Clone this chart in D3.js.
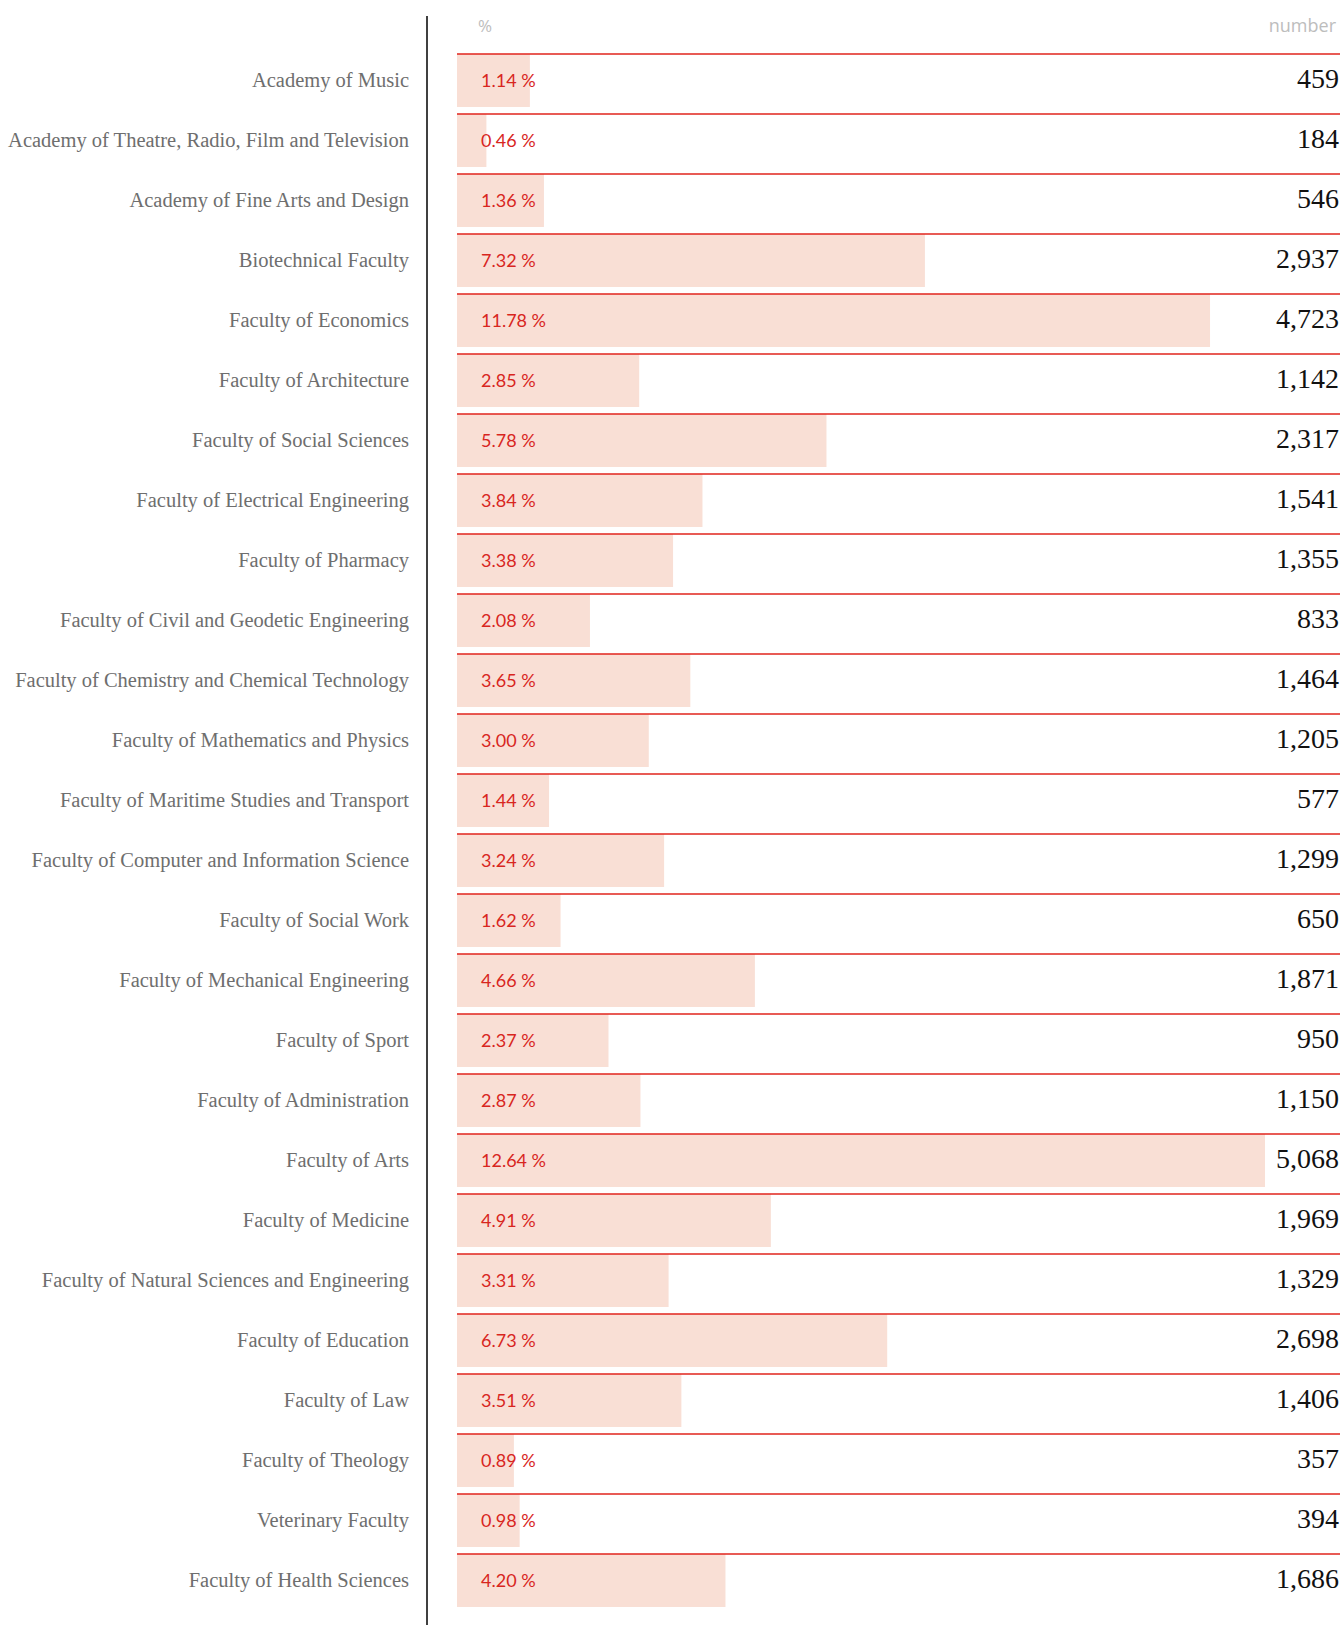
<!DOCTYPE html>
<html>
<head>
<meta charset="utf-8">
<script src="https://cdn.jsdelivr.net/npm/d3@7"></script>
<style>
  body { margin: 0; background: #fff; }
  svg { display: block; }
</style>
</head>
<body>
<svg id="chart" width="1344" height="1625"></svg>
<script>
// faculties, top to bottom
let faculties = [
  "Academy of Music",
  "Academy of Theatre, Radio, Film and Television",
  "Academy of Fine Arts and Design",
  "Biotechnical Faculty",
  "Faculty of Economics",
  "Faculty of Architecture",
  "Faculty of Social Sciences",
  "Faculty of Electrical Engineering",
  "Faculty of Pharmacy",
  "Faculty of Civil and Geodetic Engineering",
  "Faculty of Chemistry and Chemical Technology",
  "Faculty of Mathematics and Physics",
  "Faculty of Maritime Studies and Transport",
  "Faculty of Computer and Information Science",
  "Faculty of Social Work",
  "Faculty of Mechanical Engineering",
  "Faculty of Sport",
  "Faculty of Administration",
  "Faculty of Arts",
  "Faculty of Medicine",
  "Faculty of Natural Sciences and Engineering",
  "Faculty of Education",
  "Faculty of Law",
  "Faculty of Theology",
  "Veterinary Faculty",
  "Faculty of Health Sciences"
];

let percents = [1.14, 0.46, 1.36, 7.32, 11.78, 2.85, 5.78, 3.84, 3.38, 2.08, 3.65, 3.00, 1.44,
  3.24, 1.62, 4.66, 2.37, 2.87, 12.64, 4.91, 3.31, 6.73, 3.51, 0.89, 0.98, 4.20];

let students = [459, 184, 546, 2937, 4723, 1142, 2317, 1541, 1355, 833, 1464, 1205, 577,
  1299, 650, 1871, 950, 1150, 5068, 1969, 1329, 2698, 1406, 357, 394, 1686];

let headers = ["%", "number"];

let rows = faculties.map((f, i) => ({ name: f, pct: percents[i], num: students[i] }));

let svg = d3.select("#chart");

let left = 457, right = 1340;

let y = d3.scaleBand()
  .domain(faculties)
  .range([54, 54 + faculties.length * 60])
  .paddingInner(0.117)
  .paddingOuter(0.0585)
  .align(0);

let x = d3.scaleLinear()
  .domain([0, 12.64])
  .range([0, 808]);

// vertical axis line
svg.append("line")
  .attr("x1", 427).attr("x2", 427)
  .attr("y1", 16).attr("y2", 1625)
  .attr("stroke", "#000")
  .attr("stroke-width", 1.5);

// headers
svg.append("text")
  .attr("x", 478).attr("y", 27)
  .attr("dominant-baseline", "middle")
  .style("font-family", "'Open Sans', sans-serif")
  .style("font-size", "17px")
  .attr("fill", "#bdbdbd")
  .text(headers[0]);

svg.append("text")
  .attr("x", 1336).attr("y", 27)
  .attr("text-anchor", "end")
  .attr("dominant-baseline", "middle")
  .style("font-family", "'Open Sans', sans-serif")
  .style("font-size", "18px")
  .attr("fill", "#bdbdbd")
  .text(headers[1]);

let row = svg.selectAll("g.row")
  .data(rows)
  .enter()
  .append("g")
  .attr("class", "row")
  .attr("transform", d => `translate(0,${y(d.name)})`);

row.append("rect")
  .attr("x", left)
  .attr("y", 0)
  .attr("width", d => x(d.pct))
  .attr("height", y.bandwidth())
  .attr("fill", "#f9dfd5");

row.append("line")
  .attr("x1", left).attr("x2", right)
  .attr("y1", 0).attr("y2", 0)
  .attr("stroke", "#e0241c")
  .attr("stroke-width", 1.5);

// category labels
row.append("text")
  .attr("x", 409)
  .attr("y", 28)
  .attr("text-anchor", "end")
  .attr("dominant-baseline", "middle")
  .style("font-family", "'Liberation Serif', serif")
  .style("font-size", "20.5px")
  .attr("fill", "#6e6e6e")
  .text(d => d.name);

// percent labels
row.append("text")
  .attr("x", 481)
  .attr("y", 28)
  .attr("dominant-baseline", "middle")
  .style("font-family", "Lato, sans-serif")
  .style("font-size", "18px")
  .attr("fill", "#d8261e")
  .text(d => d.pct.toFixed(2) + " %");

// numbers
row.append("text")
  .attr("x", 1339)
  .attr("y", 28)
  .attr("text-anchor", "end")
  .attr("dominant-baseline", "middle")
  .style("font-family", "'Liberation Serif', serif")
  .style("font-size", "28px")
  .attr("fill", "#111")
  .text(d => d3.format(",")(d.num));
</script>
</body>
</html>
